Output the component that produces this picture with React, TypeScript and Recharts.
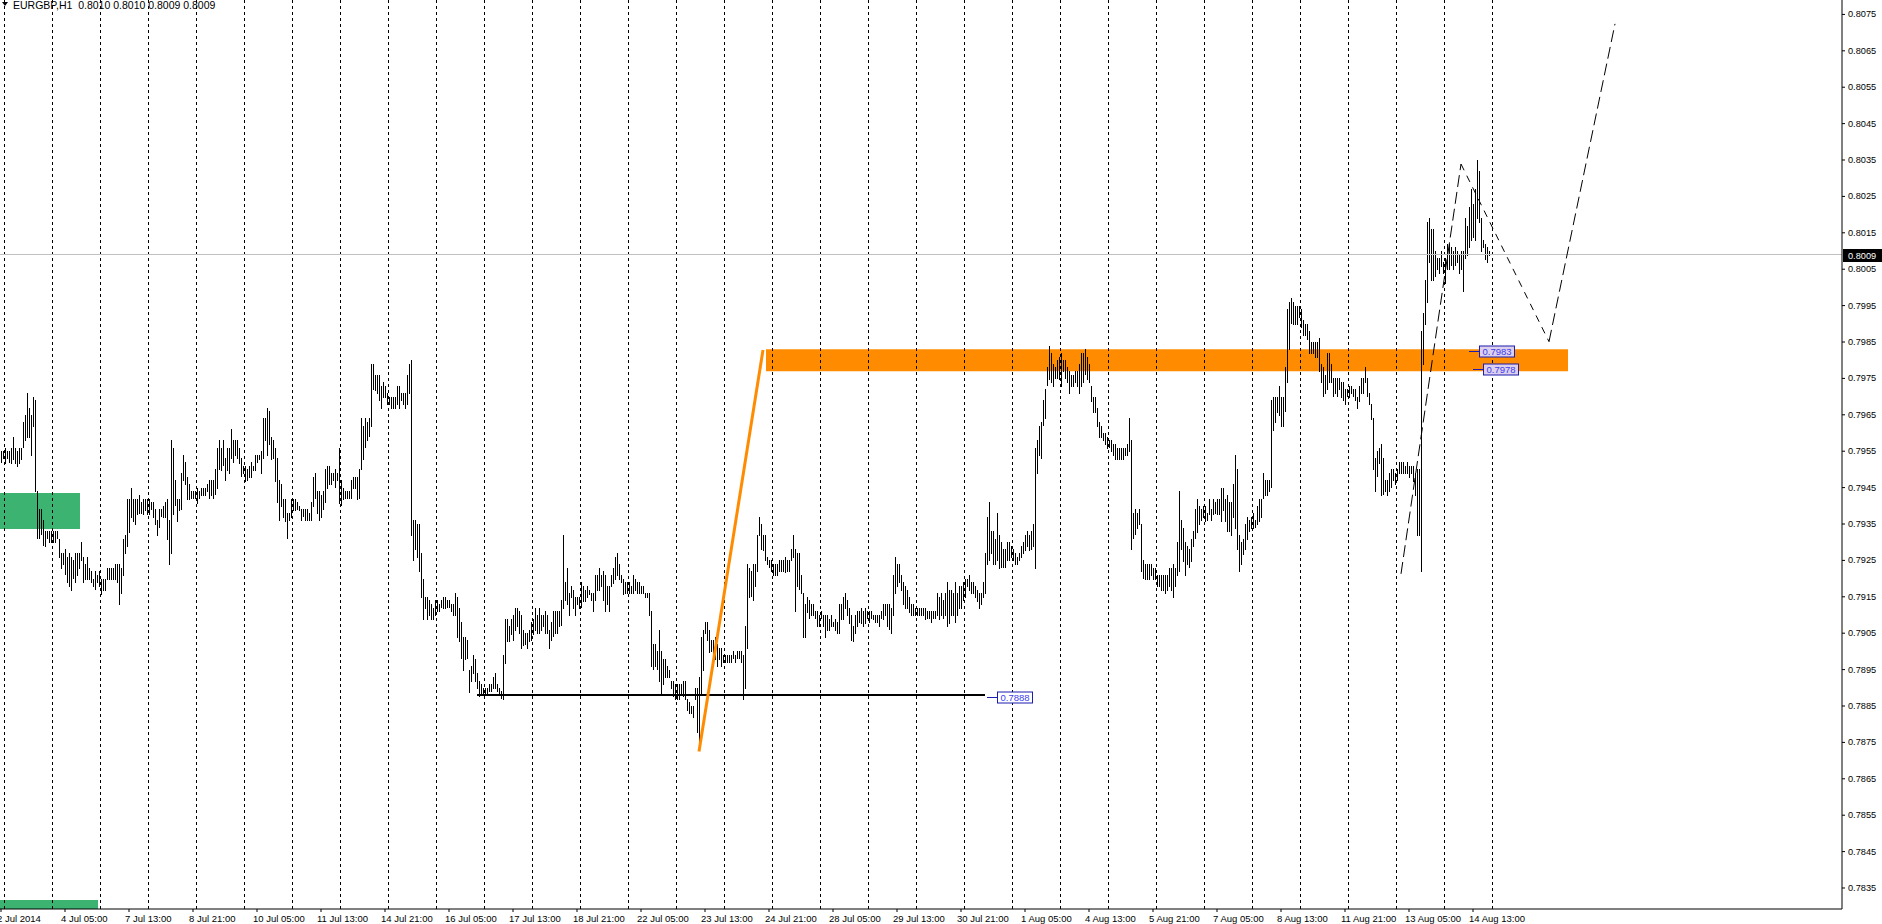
import React from 'react';
import { ComposedChart, Bar, XAxis, YAxis, ReferenceLine, ReferenceArea, ReferenceDot, Label } from 'recharts';

// EURGBP H1 bars, high / low in pips (0.0001), one array pair per trading week
const wk1High = [
  7955, 7955, 7956, 7955, 7955, 7956, 7959, 7956, 7955, 7956, 7956, 7963, 7965, 7971, 7967, 7965, 7970, 7969, 7944, 7939,
  7939, 7936, 7933, 7933, 7933, 7933, 7933, 7933, 7933, 7931, 7927, 7927, 7928, 7926, 7927, 7926, 7925, 7927, 7927, 7927,
  7930, 7926, 7924, 7926, 7923, 7922, 7920, 7922, 7921, 7922,
];
const wk1Low = [
  7952, 7953, 7952, 7953, 7952, 7952, 7953, 7952, 7951, 7952, 7953, 7956, 7958, 7959, 7959, 7954, 7962, 7944, 7931, 7931,
  7932, 7929, 7929, 7931, 7930, 7930, 7930, 7930, 7931, 7926, 7923, 7924, 7921, 7919, 7918, 7917, 7920, 7919, 7921, 7923,
  7925, 7919, 7920, 7920, 7920, 7919, 7918, 7917, 7919, 7918,
];
const wk2High = [
  7920, 7920, 7920, 7923, 7923, 7923, 7923, 7924, 7924, 7924, 7923, 7931, 7932, 7942, 7942, 7945, 7942, 7942, 7942, 7943,
  7941, 7942, 7942, 7942, 7942, 7941, 7941, 7939, 7936, 7939, 7939, 7940, 7941, 7942, 7936, 7958, 7956, 7947, 7942, 7942,
  7949, 7954, 7952, 7948, 7946, 7944, 7944, 7944, 7945, 7944, 7945, 7945, 7945, 7946, 7947, 7947, 7947, 7950, 7956, 7958,
  7956, 7958, 7953, 7956, 7956, 7961, 7958, 7958, 7958, 7956, 7953, 7951, 7951, 7950, 7951, 7952, 7951, 7954, 7954, 7954,
  7955, 7964, 7964, 7967, 7966, 7959, 7958, 7956, 7953, 7947, 7946, 7942, 7942, 7938, 7938, 7942, 7942, 7942, 7941, 7940,
  7939, 7939, 7939, 7939, 7938, 7941, 7948, 7949, 7944, 7944, 7943, 7944, 7950, 7951, 7951, 7949, 7949, 7950, 7949, 7956,
];
const wk2Low = [
  7916, 7917, 7917, 7920, 7920, 7920, 7920, 7920, 7919, 7913, 7916, 7921, 7927, 7929, 7933, 7937, 7936, 7935, 7938, 7938,
  7938, 7938, 7939, 7938, 7938, 7939, 7937, 7935, 7932, 7934, 7937, 7937, 7937, 7931, 7924, 7927, 7938, 7940, 7936, 7939,
  7939, 7947, 7946, 7942, 7942, 7942, 7942, 7942, 7941, 7942, 7943, 7943, 7943, 7944, 7942, 7943, 7942, 7943, 7945, 7950,
  7950, 7951, 7947, 7950, 7949, 7953, 7952, 7954, 7953, 7952, 7948, 7949, 7947, 7947, 7948, 7948, 7950, 7950, 7952, 7953,
  7949, 7953, 7958, 7954, 7957, 7953, 7953, 7947, 7941, 7936, 7940, 7937, 7936, 7931, 7936, 7937, 7939, 7939, 7939, 7939,
  7936, 7937, 7936, 7936, 7936, 7936, 7940, 7942, 7938, 7936, 7937, 7939, 7941, 7945, 7946, 7946, 7947, 7945, 7947, 7941,
];
const wk3High = [
  7947, 7945, 7944, 7944, 7944, 7947, 7948, 7948, 7948, 7950, 7964, 7962, 7964, 7963, 7964, 7979, 7979, 7976, 7976, 7976,
  7973, 7974, 7973, 7971, 7970, 7970, 7970, 7970, 7973, 7973, 7971, 7971, 7971, 7976, 7979, 7980, 7936, 7936, 7935, 7935,
  7927, 7920, 7915, 7915, 7914, 7913, 7912, 7914, 7914, 7913, 7914, 7915, 7915, 7914, 7914, 7913, 7913, 7916, 7915, 7912,
  7908, 7904, 7904, 7903, 7895, 7896, 7899, 7898, 7894, 7892, 7891, 7890, 7890, 7890, 7891, 7891, 7893, 7894, 7891, 7890,
  7889, 7899, 7909, 7909, 7907, 7909, 7910, 7912, 7912, 7911, 7910, 7906, 7905, 7905, 7906, 7908, 7909, 7912, 7910, 7912,
  7910, 7910, 7911, 7910, 7906, 7908, 7911, 7911, 7911, 7911, 7914, 7932, 7919, 7923, 7916, 7918, 7917, 7915, 7915, 7915,
];
const wk3Low = [
  7940, 7942, 7942, 7942, 7942, 7942, 7945, 7945, 7942, 7942, 7950, 7953, 7956, 7958, 7959, 7962, 7972, 7972, 7971, 7969,
  7967, 7970, 7970, 7968, 7968, 7967, 7967, 7967, 7968, 7967, 7969, 7968, 7967, 7968, 7971, 7932, 7925, 7928, 7926, 7922,
  7915, 7909, 7912, 7909, 7910, 7909, 7909, 7910, 7911, 7911, 7912, 7912, 7912, 7912, 7912, 7911, 7910, 7910, 7904, 7903,
  7898, 7895, 7898, 7898, 7889, 7892, 7894, 7892, 7890, 7888, 7888, 7888, 7888, 7888, 7889, 7889, 7890, 7890, 7889, 7888,
  7887, 7887, 7897, 7903, 7903, 7905, 7903, 7906, 7907, 7905, 7901, 7902, 7902, 7901, 7903, 7903, 7905, 7906, 7905, 7905,
  7906, 7907, 7905, 7905, 7901, 7903, 7904, 7905, 7905, 7907, 7907, 7912, 7914, 7913, 7910, 7915, 7912, 7910, 7913, 7912,
];
const wk4High = [
  7919, 7918, 7917, 7918, 7917, 7916, 7916, 7921, 7921, 7923, 7921, 7922, 7921, 7918, 7918, 7921, 7923, 7926, 7927, 7924,
  7921, 7920, 7919, 7919, 7919, 7918, 7921, 7920, 7919, 7919, 7918, 7918, 7916, 7916, 7916, 7911, 7902, 7902, 7900, 7906,
  7900, 7898, 7898, 7896, 7895, 7892, 7892, 7891, 7891, 7891, 7891, 7892, 7892, 7887, 7886, 7885, 7885, 7890, 7890, 7893,
  7904, 7906, 7908, 7908, 7906, 7903, 7903, 7904, 7902, 7901, 7901, 7899, 7899, 7899, 7899, 7899, 7900, 7899, 7900, 7900,
  7900, 7899, 7907, 7924, 7923, 7922, 7924, 7924, 7932, 7937, 7935, 7932, 7932, 7926, 7925, 7925, 7924, 7924, 7924, 7925,
  7925, 7925, 7926, 7925, 7925, 7928, 7932, 7928, 7927, 7927, 7921, 7916, 7913, 7915, 7914, 7913, 7913, 7911, 7911, 7910,
];
const wk4Low = [
  7912, 7914, 7914, 7915, 7916, 7914, 7911, 7914, 7917, 7917, 7918, 7914, 7911, 7913, 7911, 7918, 7919, 7920, 7921, 7920,
  7919, 7916, 7916, 7916, 7916, 7916, 7916, 7917, 7916, 7916, 7916, 7916, 7915, 7915, 7910, 7896, 7895, 7896, 7895, 7892,
  7888, 7891, 7893, 7893, 7893, 7890, 7888, 7887, 7887, 7887, 7888, 7888, 7887, 7884, 7883, 7883, 7882, 7887, 7878, 7873,
  7888, 7895, 7905, 7903, 7900, 7900, 7898, 7898, 7896, 7898, 7896, 7897, 7897, 7897, 7897, 7897, 7898, 7897, 7898, 7898,
  7897, 7887, 7890, 7901, 7915, 7915, 7914, 7918, 7922, 7932, 7928, 7928, 7925, 7924, 7923, 7922, 7921, 7921, 7921, 7922,
  7922, 7922, 7922, 7922, 7922, 7925, 7926, 7911, 7918, 7917, 7916, 7904, 7904, 7911, 7909, 7910, 7910, 7909, 7907, 7907,
];
const wk5High = [
  7911, 7910, 7910, 7910, 7909, 7910, 7908, 7909, 7908, 7913, 7913, 7915, 7916, 7914, 7912, 7910, 7907, 7910, 7911, 7911,
  7912, 7911, 7912, 7911, 7911, 7911, 7910, 7910, 7910, 7910, 7911, 7913, 7913, 7913, 7913, 7912, 7921, 7926, 7924, 7924,
  7921, 7919, 7918, 7917, 7915, 7913, 7913, 7912, 7912, 7912, 7912, 7912, 7912, 7911, 7911, 7911, 7911, 7911, 7916, 7915,
  7916, 7914, 7916, 7919, 7917, 7917, 7916, 7919, 7916, 7918, 7918, 7919, 7920, 7920, 7921, 7919, 7919, 7918, 7917, 7916,
  7916, 7919, 7927, 7937, 7941, 7933, 7933, 7931, 7938, 7932, 7930, 7928, 7928, 7930, 7930, 7929, 7928, 7927, 7926, 7927,
  7929, 7930, 7932, 7933, 7932, 7933, 7935, 7956, 7958, 7962, 7963, 7969, 7972, 7978, 7984, 7982, 7979, 7978, 7980, 7981,
];
const wk5Low = [
  7909, 7907, 7904, 7906, 7906, 7907, 7907, 7906, 7905, 7905, 7909, 7909, 7912, 7910, 7908, 7903, 7903, 7905, 7907, 7908,
  7908, 7907, 7908, 7909, 7908, 7909, 7909, 7908, 7908, 7907, 7909, 7909, 7910, 7907, 7906, 7905, 7910, 7916, 7918, 7919,
  7917, 7913, 7912, 7912, 7911, 7910, 7910, 7910, 7910, 7910, 7910, 7910, 7909, 7909, 7909, 7908, 7909, 7909, 7910, 7909,
  7910, 7909, 7910, 7907, 7908, 7910, 7910, 7908, 7910, 7912, 7912, 7914, 7915, 7918, 7917, 7916, 7916, 7915, 7914, 7912,
  7913, 7915, 7916, 7924, 7925, 7927, 7924, 7924, 7925, 7923, 7923, 7923, 7923, 7925, 7925, 7926, 7925, 7924, 7924, 7925,
  7926, 7927, 7928, 7929, 7928, 7928, 7929, 7923, 7949, 7954, 7953, 7962, 7964, 7973, 7975, 7974, 7973, 7975, 7975, 7975,
];
const wk6High = [
  7982, 7980, 7980, 7978, 7977, 7976, 7976, 7977, 7977, 7979, 7982, 7982, 7983, 7981, 7979, 7973, 7970, 7970, 7967, 7963,
  7962, 7960, 7960, 7959, 7958, 7958, 7957, 7957, 7956, 7956, 7956, 7956, 7956, 7957, 7964, 7958, 7938, 7939, 7938, 7939,
  7935, 7925, 7924, 7924, 7924, 7924, 7923, 7923, 7921, 7921, 7921, 7921, 7921, 7921, 7923, 7923, 7924, 7923, 7930, 7944,
  7936, 7934, 7930, 7929, 7928, 7931, 7933, 7939, 7942, 7940, 7939, 7940, 7940, 7938, 7942, 7939, 7942, 7941, 7942, 7942,
  7945, 7945, 7942, 7943, 7941, 7941, 7946, 7954, 7950, 7932, 7930, 7931, 7935, 7937, 7936, 7937, 7938, 7936, 7940, 7942,
  7942, 7949, 7947, 7947, 7947, 7969, 7970, 7970, 7970, 7973, 7970, 7970, 7978, 7994, 7996, 7997, 7996, 7995, 7995, 7995,
];
const wk6Low = [
  7973, 7977, 7975, 7974, 7971, 7973, 7973, 7974, 7973, 7971, 7973, 7974, 7976, 7975, 7974, 7969, 7966, 7966, 7962, 7959,
  7959, 7958, 7957, 7956, 7956, 7955, 7954, 7953, 7953, 7953, 7953, 7953, 7954, 7954, 7955, 7928, 7931, 7932, 7934, 7935,
  7922, 7920, 7920, 7920, 7920, 7921, 7920, 7920, 7918, 7918, 7917, 7917, 7916, 7917, 7918, 7917, 7915, 7918, 7921, 7922,
  7928, 7925, 7921, 7924, 7923, 7925, 7929, 7931, 7933, 7935, 7936, 7937, 7936, 7936, 7938, 7936, 7938, 7938, 7938, 7938,
  7936, 7939, 7936, 7933, 7933, 7932, 7937, 7934, 7928, 7922, 7924, 7927, 7928, 7931, 7933, 7934, 7934, 7934, 7935, 7936,
  7937, 7942, 7943, 7943, 7944, 7945, 7961, 7963, 7966, 7965, 7962, 7962, 7966, 7974, 7983, 7990, 7990, 7990, 7990, 7992,
];
const wk7High = [
  7994, 7991, 7990, 7990, 7988, 7985, 7985, 7985, 7985, 7986, 7979, 7978, 7976, 7982, 7982, 7979, 7975, 7975, 7975, 7975,
  7974, 7974, 7972, 7972, 7973, 7973, 7972, 7972, 7970, 7973, 7975, 7975, 7978, 7975, 7971, 7968, 7964, 7953, 7955, 7956,
  7957, 7953, 7947, 7947, 7949, 7950, 7950, 7949, 7950, 7952, 7952, 7952, 7951, 7952, 7951, 7951, 7951, 7949, 7950, 7950,
  7988, 7993, 8002, 8018, 8019, 8016, 8016, 8010, 8008, 8008, 8010, 8007, 8008, 8012, 8012, 8011, 8010, 8011, 8010, 8009,
  8010, 8010, 8019, 8017, 8022, 8027, 8023, 8027, 8035, 8032, 8019, 8013, 8012, 8011, 8010,
];
const wk7Low = [
  7989, 7987, 7987, 7986, 7982, 7982, 7982, 7981, 7981, 7977, 7974, 7970, 7971, 7972, 7974, 7974, 7970, 7971, 7970, 7972,
  7970, 7969, 7968, 7970, 7970, 7971, 7970, 7969, 7967, 7969, 7971, 7971, 7974, 7970, 7968, 7964, 7950, 7944, 7948, 7952,
  7943, 7943, 7944, 7943, 7944, 7945, 7947, 7946, 7947, 7949, 7949, 7949, 7949, 7949, 7948, 7949, 7947, 7943, 7932, 7932,
  7922, 7979, 7990, 7996, 8007, 8002, 8002, 8003, 8005, 8004, 8006, 8004, 8001, 8005, 8005, 8006, 8005, 8006, 8007, 8004,
  8005, 7999, 8008, 8009, 8011, 8013, 8014, 8013, 8019, 8018, 8010, 8011, 8008, 8007, 8009,
];

// time scale labels, one every 32 bars
const timeLabels = [
  '2 Jul 2014', '4 Jul 05:00', '7 Jul 13:00', '8 Jul 21:00', '10 Jul 05:00', '11 Jul 13:00', '14 Jul 21:00',
  '16 Jul 05:00', '17 Jul 13:00', '18 Jul 21:00', '22 Jul 05:00', '23 Jul 13:00', '24 Jul 21:00', '28 Jul 05:00',
  '29 Jul 13:00', '30 Jul 21:00', '1 Aug 05:00', '4 Aug 13:00', '5 Aug 21:00', '7 Aug 05:00', '8 Aug 13:00',
  '11 Aug 21:00', '13 Aug 05:00', '14 Aug 13:00',
];
const priceTicks = [
  0.7835, 0.7845, 0.7855, 0.7865, 0.7875, 0.7885, 0.7895, 0.7905, 0.7915, 0.7925, 0.7935, 0.7945, 0.7955,
  0.7965, 0.7975, 0.7985, 0.7995, 0.8005, 0.8015, 0.8025, 0.8035, 0.8045, 0.8055, 0.8065, 0.8075,
];

// drawn objects
const bid = 0.8009;
const supportLevel = 0.7888;
const zoneTop = 0.7983;
const zoneBottom = 0.7977;
const orangeLeg = [{ bar: 349, price: 0.78725 }, { bar: 381, price: 0.79828 }];
const projection = [
  { bar: 700, price: 0.79213 },
  { bar: 730, price: 0.80339 },
  { bar: 774, price: 0.79851 },
  { bar: 807, price: 0.80724 },
];

const FONT = "'Liberation Sans', Arial, sans-serif";
const SLOTS = 921;
const Y_MAX = 0.807896;
const Y_MIN = 0.782923;

const highs = [...wk1High, ...wk2High, ...wk3High, ...wk4High, ...wk5High, ...wk6High, ...wk7High];
const lows = [...wk1Low, ...wk2Low, ...wk3Low, ...wk4Low, ...wk5Low, ...wk6Low, ...wk7Low];

const data = Array.from({ length: SLOTS }, (_, i) => ({
  i,
  hl: i < highs.length ? [lows[i] / 10000, highs[i] / 10000] : null,
}));

const labelAt: Record<number, string> = {};
timeLabels.forEach((t, k) => { labelAt[k * 32] = t; });
const timeTicks = timeLabels.map((_, k) => k * 32);
const daySeparators = Array.from({ length: 32 }, (_, m) => 2 + m * 24);

const HLBar = (props: any) => {
  const { x, y, height } = props;
  if (x == null || y == null || !Number.isFinite(y)) return null;
  const top = Math.round(Math.min(y, y + height));
  const h = Math.round(Math.abs(height)) + 1;
  return <rect x={Math.floor(x)} y={top} width={1} height={h} fill="#000" />;
};

const TimeTick = ({ x, y, payload }: any) => (
  <text x={x - 4} y={y + 10} fontSize={9.5} fontFamily={FONT} fill="#000" textAnchor="start">
    {labelAt[payload.value]}
  </text>
);

const PriceTick = ({ x, y, payload }: any) => (
  <text x={x} y={y + 3} fontSize={9.2} fontFamily={FONT} fill="#000" textAnchor="start">
    {Number(payload.value).toFixed(4)}
  </text>
);

const BidTag = ({ viewBox }: any) => {
  if (!viewBox) return null;
  const x = viewBox.x + viewBox.width;
  const y = Math.round(viewBox.y);
  return (
    <g>
      <rect x={x + 1} y={y - 6} width={39} height={13} fill="#000" />
      <text x={x + 6} y={y + 4} fontSize={9.2} fontFamily={FONT} fill="#fff">{bid.toFixed(4)}</text>
    </g>
  );
};

const PriceTag = ({ cx, cy, text, fill }: any) => {
  const ly = Math.round(cy) + 2.5;
  const lx = Math.round(cx);
  const bx = lx + 10.5;
  return (
    <g>
      <line x1={lx} y1={ly} x2={bx} y2={ly} stroke="#1c1cb0" />
      <rect x={bx} y={ly - 5.5} width={35} height={11} fill={fill} stroke="#1c1cb0" />
      <text x={bx + 17.5} y={ly + 3.5} fontSize={9.5} fontFamily={FONT} fill="#3c3cf0" textAnchor="middle">{text}</text>
    </g>
  );
};

export default function App() {
  return (
    <div style={{ position: 'relative', width: 1882, height: 924, background: '#fff', overflow: 'hidden' }}>
      <style>{'body{margin:0;background:#fff}'}</style>
      <ComposedChart width={1882} height={924} data={data} margin={{ top: 0, right: 0, bottom: 0, left: 0 }}>
        <XAxis
          dataKey="i"
          type="category"
          ticks={timeTicks}
          interval={0}
          tick={<TimeTick />}
          tickSize={3}
          tickMargin={0}
          height={15}
          axisLine={{ stroke: '#000' }}
          tickLine={{ stroke: '#000' }}
        />
        <YAxis
          orientation="right"
          width={40}
          type="number"
          domain={[Y_MIN, Y_MAX]}
          allowDataOverflow
          ticks={priceTicks}
          interval={0}
          tick={<PriceTick />}
          tickSize={3}
          tickMargin={3}
          axisLine={{ stroke: '#000' }}
          tickLine={{ stroke: '#000' }}
        />
        <ReferenceArea x1={0} x2={39} y1={0.79336} y2={0.79435} fill="#3cb371" fillOpacity={1} stroke="none" />
        <ReferenceArea x1={0} x2={48} y1={Y_MIN} y2={0.78317} fill="#3cb371" fillOpacity={1} stroke="none" ifOverflow="hidden" />
        <ReferenceArea x1={383} x2={783} y1={zoneBottom} y2={zoneTop} fill="#ff8c00" fillOpacity={1} stroke="none" />
        {daySeparators.map((d) => (
          <ReferenceLine key={d} x={d} position="start" stroke="#000" strokeDasharray="3 3" shapeRendering="crispEdges" />
        ))}
        <ReferenceLine y={bid} stroke="#c0c0c0" shapeRendering="crispEdges">
          <Label content={BidTag} />
        </ReferenceLine>
        <Bar dataKey="hl" barSize={1} shape={<HLBar />} isAnimationActive={false} />
        <ReferenceLine
          segment={[{ x: 238, y: supportLevel }, { x: 492, y: supportLevel }]}
          stroke="#000"
          strokeWidth={2}
        />
        <ReferenceLine
          segment={[{ x: orangeLeg[0].bar, y: orangeLeg[0].price }, { x: orangeLeg[1].bar, y: orangeLeg[1].price }]}
          stroke="#ff8c00"
          strokeWidth={3}
        />
        {projection.slice(1).map((p, k) => (
          <ReferenceLine
            key={k}
            segment={[{ x: projection[k].bar, y: projection[k].price }, { x: p.bar, y: p.price }]}
            stroke="#000"
            strokeDasharray={k === 1 ? '7 6' : '12 5'}
          />
        ))}
        <ReferenceDot x={493} y={supportLevel} r={0} shape={(p: any) => <PriceTag {...p} text="0.7888" fill="#fff" />} />
        <ReferenceDot x={734} y={zoneTop} r={0} shape={(p: any) => <PriceTag {...p} text="0.7983" fill="#dcd0ec" />} />
        <ReferenceDot x={736} y={0.7978} r={0} shape={(p: any) => <PriceTag {...p} text="0.7978" fill="#dcd0ec" />} />
      </ComposedChart>
      <svg width={8} height={8} style={{ position: 'absolute', left: 1, top: 1 }}>
        <polygon points="1,1 7,1 4,5" fill="#000" />
      </svg>
      <div
        style={{
          position: 'absolute', left: 13, top: 0, fontFamily: FONT, fontSize: 10.5, lineHeight: '11px',
          whiteSpace: 'pre', color: '#000',
        }}
      >
        {'EURGBP,H1  0.8010 0.8010 0.8009 0.8009'}
      </div>
    </div>
  );
}
